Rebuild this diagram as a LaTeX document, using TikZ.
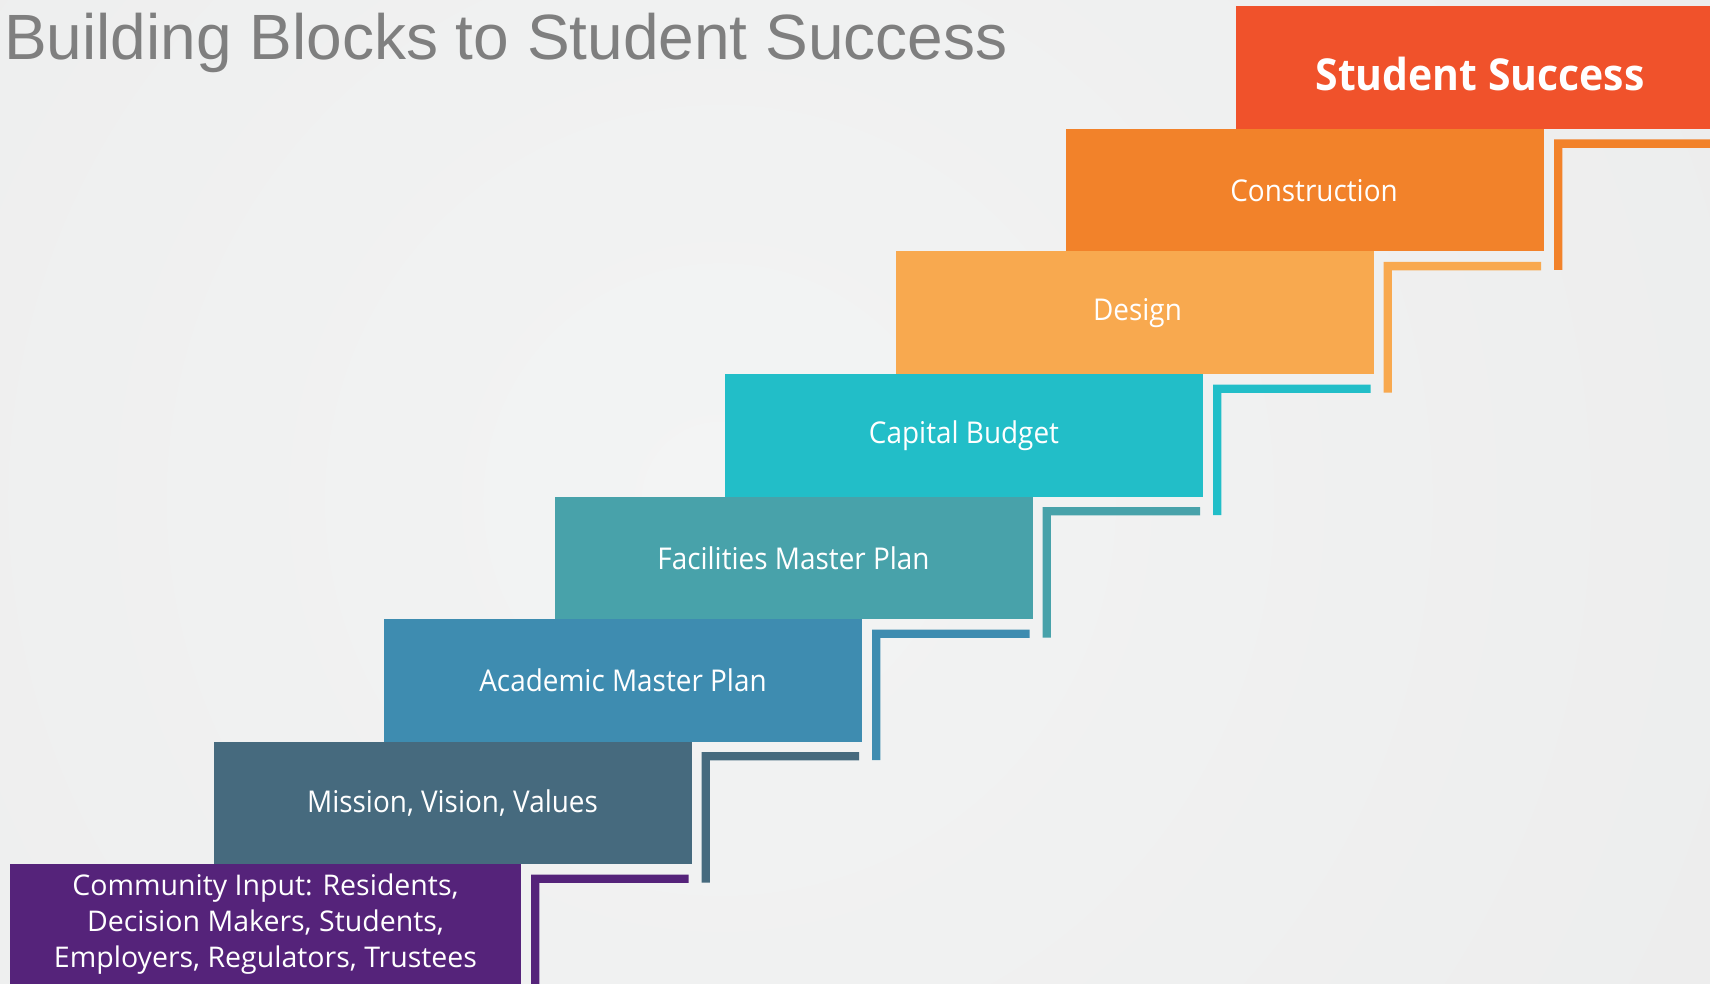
\documentclass[tikz,border=0pt]{standalone}
\usepackage{fontspec}
\setmainfont{Open Sans}
\newfontfamily\titlefont{Liberation Sans}
\newfontfamily\labfont[FakeStretch=0.93]{Open Sans}
\newfontfamily\comfont{Open Sans}
\definecolor{bgin}{HTML}{F3F4F4}
\definecolor{bgout}{HTML}{E8E8E8}
\definecolor{titlegray}{HTML}{7F7F7F}
\definecolor{cSS}{HTML}{F0522B}
\definecolor{cCon}{HTML}{F2822A}
\definecolor{cDes}{HTML}{F8A94F}
\definecolor{cCap}{HTML}{22BEC8}
\definecolor{cFac}{HTML}{48A2AA}
\definecolor{cAca}{HTML}{3E8CB0}
\definecolor{cMis}{HTML}{466A7E}
\definecolor{cCom}{HTML}{55237A}
\tikzset{
  block/.style={rectangle, inner sep=0pt, outer sep=0pt, anchor=north west,
    text=white, align=center, minimum height=122.5pt},
  lbl/.style={font=\labfont\fontsize{30}{36}\selectfont},
}
\begin{document}
\begin{tikzpicture}[x=1pt,y=-1pt]
\useasboundingbox (0,0) rectangle (1710,984);
\clip (0,0) rectangle (1710,984);
\shade[inner color=bgin, outer color=bgout] (720,500) circle (1900);
% title
\node[anchor=base west, inner sep=0pt, text=titlegray,
  font=\titlefont\fontsize{64}{70}\selectfont] (title) at (4,60) {Building Blocks to Student Success};
% brackets
\fill[cCon] (1554,139.5) rectangle (1712,147.8) (1554,139.5) rectangle (1562.3,270);
\fill[cDes] (1383.5,262) rectangle (1541,270.3) (1383.5,262) rectangle (1391.8,392.5);
\fill[cCap] (1213,384.5) rectangle (1370.5,392.8) (1213,384.5) rectangle (1221.3,515);
\fill[cFac] (1042.5,507) rectangle (1200,515.3) (1042.5,507) rectangle (1050.8,637.5);
\fill[cAca] (872,629.5) rectangle (1029.5,637.8) (872,629.5) rectangle (880.3,760);
\fill[cMis] (701.5,752) rectangle (859,760.3) (701.5,752) rectangle (709.8,882.5);
\fill[cCom] (531,874.5) rectangle (688.5,882.8) (531,874.5) rectangle (539.3,990);
% blocks
\node[block, fill=cSS, minimum width=488pt,
  label={[text=white, inner sep=0pt, yshift=-6pt,
    font=\labfont\bfseries\fontsize{44}{50}\selectfont]center:Student Success}] (success) at (1236,6.5) {};
\node[block, lbl, fill=cCon, minimum width=478pt] (construction) at (1066,129) {\hspace*{18pt}Construction};
\node[block, lbl, fill=cDes, minimum width=478pt] (design) at (895.5,251.5) {\hspace*{6pt}Design};
\node[block, lbl, fill=cCap, minimum width=478pt] (capital) at (725,374) {Capital Budget};
\node[block, lbl, fill=cFac, minimum width=478pt] (facilities) at (554.5,496.5) {Facilities Master Plan};
\node[block, lbl, fill=cAca, minimum width=478pt] (academic) at (384,619) {Academic Master Plan};
\node[block, lbl, fill=cMis, minimum width=478pt] (mission) at (213.5,741.5) {Mission, Vision, Values};
\node[block, fill=cCom, minimum width=511pt, minimum height=120pt,
  font=\comfont\fontsize{28.5}{36}\selectfont] (community) at (10,864)
  {Community Input: Residents,\\Decision Makers, Students,\\Employers, Regulators, Trustees};
\end{tikzpicture}
\end{document}
